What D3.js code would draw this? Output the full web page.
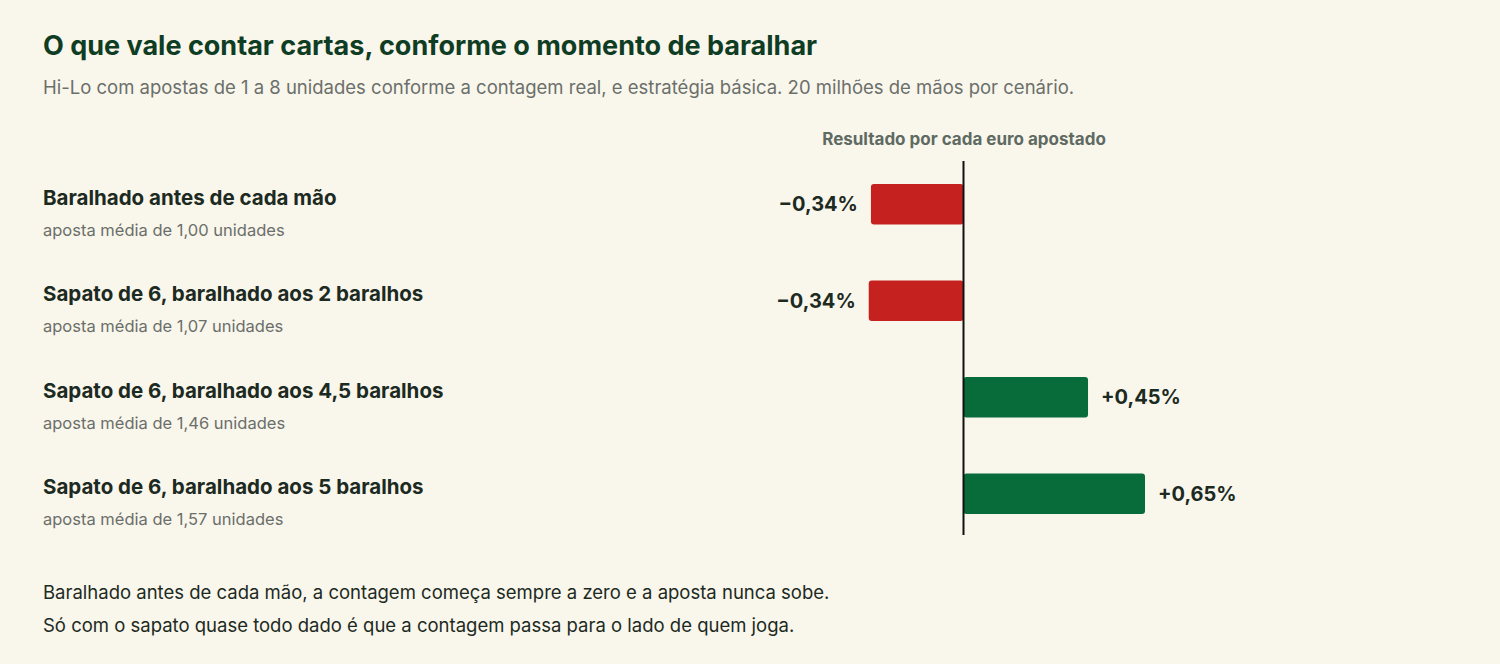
<!DOCTYPE html>
<html><head><meta charset="utf-8">
<script src="https://cdn.jsdelivr.net/npm/d3@7"></script>
<style>
body{margin:0;background:#f9f6ec;font-family:Inter,"Open Sans",sans-serif;}
</style></head>
<body><svg id="chart" width="1500" height="664"></svg>
<script>
// chart data
const scenarios = ['Baralhado antes de cada mão', 'Sapato de 6, baralhado aos 2 baralhos', 'Sapato de 6, baralhado aos 4,5 baralhos', 'Sapato de 6, baralhado aos 5 baralhos'];
const avgBets = ['aposta média de 1,00 unidades', 'aposta média de 1,07 unidades', 'aposta média de 1,46 unidades', 'aposta média de 1,57 unidades'];
const results = [-0.333, -0.341, 0.448, 0.653];
const resultLabels = ['−0,34%', '−0,34%', '+0,45%', '+0,65%'];

const svg = d3.select('#chart');
const red = '#c5221f', green = '#076b3a', dark = '#1c2a22';

svg.append('text').attr('x', 43).attr('y', 55).attr('font-size', 27).attr('font-weight', 700)
  .attr('fill', '#0f3d24').text('O que vale contar cartas, conforme o momento de baralhar');
svg.append('text').attr('x', 43).attr('y', 94).attr('font-size', 18.5).attr('fill', '#6b6f6a')
  .text('Hi-Lo com apostas de 1 a 8 unidades conforme a contagem real, e estratégia básica. 20 milhões de mãos por cenário.');

// scales
const x = d3.scaleLinear().domain([0, 0.653]).range([963.5, 1145]);
const y = d3.scaleBand().domain(d3.range(scenarios.length)).range([156, 542]).paddingInner(0.58).paddingOuter(0.29);

svg.append('text').attr('x', 964).attr('y', 145).attr('text-anchor', 'middle').attr('font-size', 17)
  .attr('font-weight', 700).attr('fill', '#5e6a62').text('Resultado por cada euro apostado');

const rows = svg.selectAll('.row').data(scenarios).join('g');
rows.append('text').attr('x', 43).attr('y', (d, i) => y(i) + 21).attr('font-size', 20.5)
  .attr('font-weight', 700).attr('fill', dark).text(d => d);
rows.append('text').attr('x', 43).attr('y', (d, i) => y(i) + 52).attr('font-size', 16.5)
  .attr('fill', '#6b6f6a').text((d, i) => avgBets[i]);

svg.selectAll('.bar').data(results).join('rect')
  .attr('x', d => Math.min(x(d), x(0)))
  .attr('width', d => Math.abs(x(d) - x(0)))
  .attr('y', (d, i) => y(i)).attr('height', y.bandwidth()).attr('rx', 3)
  .attr('fill', d => d < 0 ? red : green);

svg.selectAll('.val').data(results).join('text')
  .attr('x', d => d < 0 ? x(d) - 13 : x(d) + 13)
  .attr('y', (d, i) => y(i) + y.bandwidth() / 2 + 7)
  .attr('text-anchor', d => d < 0 ? 'end' : 'start')
  .attr('font-size', 20).attr('font-weight', 700).attr('fill', dark)
  .text((d, i) => resultLabels[i]);

svg.append('line').attr('x1', x(0)).attr('x2', x(0)).attr('y1', 161).attr('y2', 535)
  .attr('stroke', '#111').attr('stroke-width', 2);

svg.append('text').attr('x', 43).attr('y', 599).attr('font-size', 18.5).attr('fill', dark)
  .text('Baralhado antes de cada mão, a contagem começa sempre a zero e a aposta nunca sobe.');
svg.append('text').attr('x', 43).attr('y', 632).attr('font-size', 18.5).attr('fill', dark)
  .text('Só com o sapato quase todo dado é que a contagem passa para o lado de quem joga.');
</script></body></html>
